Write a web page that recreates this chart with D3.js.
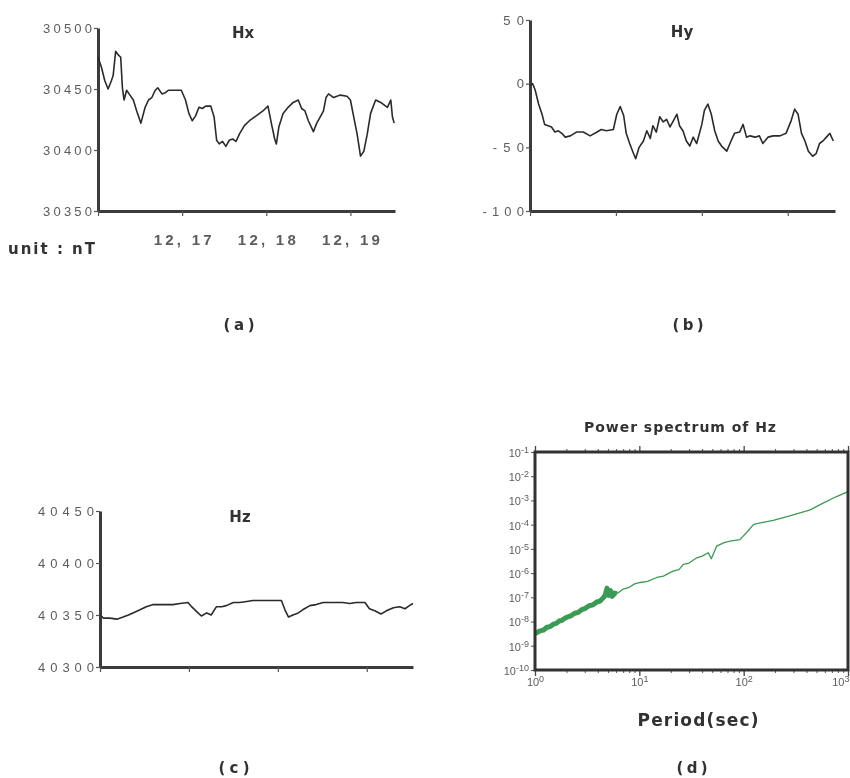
<!DOCTYPE html>
<html>
<head>
<meta charset="utf-8">
<script src="https://cdn.jsdelivr.net/npm/d3@7"></script>
<style>
  body { margin: 0; background: #fff; }
  svg { display: block; }
  .tick text { font-family: "Liberation Sans", Arial, sans-serif; fill: #5c5c5c; }
  .bold { font-family: "DejaVu Sans", sans-serif; font-weight: bold; fill: #333; }
</style>
</head>
<body>
<script>
"use strict";

// ---- data ----
const dayTicks = [0, 1, 2, 3];
const hxTickLabels = ["", "12, 17", "12, 18", "12, 19"];

const hxDay = [0, .04, .08, .12, .16, .18, .21, .24, .27, .29, .31, .34, .38, .42, .46, .51, .56, .60, .64, .68,
  .71, .76, .80, .84, .92, .99, 1.04, 1.08, 1.12, 1.16, 1.20, 1.24, 1.28, 1.34, 1.38, 1.41, 1.44, 1.48, 1.52, 1.56,
  1.60, 1.64, 1.68, 1.74, 1.80, 1.88, 1.96, 2.02, 2.06, 2.10, 2.12, 2.15, 2.20, 2.26, 2.32, 2.38, 2.42, 2.46, 2.50,
  2.56, 2.60, 2.64, 2.68, 2.71, 2.74, 2.80, 2.88, 2.96, 3.00, 3.04, 3.08, 3.12, 3.16, 3.20, 3.24, 3.30, 3.36, 3.44,
  3.48, 3.50, 3.52];
const hxVal = [30476, 30468, 30457, 30450, 30457, 30461, 30481, 30478, 30476, 30451, 30441, 30449, 30445, 30441,
  30432, 30422, 30435, 30441, 30443, 30449, 30451, 30446, 30447, 30449, 30449, 30449, 30441, 30430, 30424, 30428,
  30435, 30434, 30436, 30436, 30427, 30408, 30405, 30407, 30403, 30408, 30409, 30407, 30413, 30420, 30424, 30428,
  30432, 30436, 30422, 30409, 30405, 30419, 30430, 30435, 30439, 30441, 30434, 30432, 30424, 30415, 30422, 30427,
  30432, 30443, 30446, 30443, 30445, 30444, 30441, 30427, 30413, 30395, 30399, 30413, 30430, 30441, 30439, 30435,
  30441, 30427, 30422];

const hyDay = [0, .03, .06, .10, .14, .17, .21, .25, .29, .33, .37, .41, .47, .54, .62, .70, .78, .83, .89, .97,
  1.01, 1.05, 1.09, 1.12, 1.16, 1.20, 1.23, 1.27, 1.32, 1.36, 1.40, 1.43, 1.47, 1.51, 1.55, 1.59, 1.63, 1.67, 1.71,
  1.74, 1.78, 1.82, 1.86, 1.90, 1.94, 2.00, 2.03, 2.07, 2.11, 2.15, 2.19, 2.23, 2.29, 2.34, 2.38, 2.44, 2.48, 2.52,
  2.56, 2.62, 2.67, 2.71, 2.77, 2.83, 2.91, 2.98, 3.04, 3.08, 3.12, 3.16, 3.20, 3.24, 3.29, 3.33, 3.37, 3.41, 3.45,
  3.49, 3.53];
const hyVal = [-1, 0, -5, -16, -24, -32, -33, -34, -38, -37, -39, -42, -41, -38, -38, -41, -38, -36, -37, -36,
  -24, -18, -25, -39, -47, -54, -59, -50, -45, -37, -43, -33, -38, -26, -30, -28, -34, -29, -24, -33, -37, -45,
  -49, -42, -47, -32, -21, -16, -24, -37, -45, -49, -53, -45, -39, -38, -32, -42, -41, -42, -41, -47, -42, -41,
  -41, -39, -29, -20, -24, -39, -45, -53, -57, -55, -47, -45, -42, -39, -45];

const hzDay = [0, .04, .11, .19, .26, .32, .37, .45, .52, .60, .67, .75, .82, .90, .99, 1.03, 1.09, 1.14, 1.20,
  1.25, 1.31, 1.37, 1.42, 1.50, 1.57, 1.65, 1.72, 1.80, 1.87, 1.95, 2.04, 2.08, 2.12, 2.17, 2.23, 2.28, 2.36, 2.43,
  2.51, 2.58, 2.66, 2.73, 2.81, 2.88, 2.98, 3.03, 3.09, 3.16, 3.22, 3.30, 3.37, 3.43, 3.48, 3.52];
const hzVal = [40350, 40347, 40347, 40346, 40348, 40350, 40352, 40355, 40358, 40360, 40360, 40360, 40360, 40361,
  40362, 40358, 40353, 40349, 40352, 40350, 40358, 40358, 40359, 40362, 40362, 40363, 40364, 40364, 40364, 40364,
  40364, 40355, 40348, 40350, 40352, 40355, 40359, 40360, 40362, 40362, 40362, 40362, 40361, 40362, 40362, 40356,
  40354, 40351, 40354, 40357, 40358, 40356, 40359, 40361];

const hxTicks = [30350, 30400, 30450, 30500];
const hyTicks = [-100, -50, 0, 50];
const hzTicks = [40300, 40350, 40400, 40450];

// power spectrum: dense low-period part and sparse long-period part
const specPeriodDense = [1, 1.1, 1.2, 1.3, 1.4, 1.5, 1.6, 1.7, 1.8, 2.0, 2.2, 2.4, 2.6, 2.8, 3.0, 3.3, 3.6, 3.9,
  4.2, 4.5, 4.7, 4.9, 5.1, 5.3, 5.5, 5.8, 6.1];
const specPowerDense = [3.2e-9, 4.0e-9, 4.4e-9, 5.8e-9, 6.2e-9, 7.8e-9, 8.4e-9, 1.05e-8, 1.1e-8, 1.5e-8, 1.7e-8,
  2.2e-8, 2.4e-8, 3.1e-8, 3.4e-8, 4.5e-8, 4.9e-8, 6.4e-8, 7.0e-8, 9.5e-8, 1.2e-7, 2.4e-7, 1.2e-7, 1.9e-7, 1.1e-7,
  1.5e-7, 1.4e-7];
const specPeriod = [6.1, 7, 8, 9, 10.2, 12, 14.7, 17, 21, 24, 26.4, 30, 35.5, 40, 45.8, 49, 55, 65, 74, 92, 110,
  124, 133, 192, 277, 434, 577, 777, 1000];
const specPower = [1.4e-7, 2.2e-7, 2.6e-7, 3.6e-7, 4.1e-7, 4.6e-7, 6.6e-7, 7.5e-7, 1.2e-6, 1.4e-6, 2.3e-6, 2.6e-6,
  4.3e-6, 5.0e-6, 6.9e-6, 3.9e-6, 1.3e-5, 1.8e-5, 2.1e-5, 2.4e-5, 5.5e-5, 1.0e-4, 1.1e-4, 1.5e-4, 2.3e-4, 4.1e-4,
  7.8e-4, 1.45e-3, 2.3e-3];
const specYTicks = [1e-1, 1e-2, 1e-3, 1e-4, 1e-5, 1e-6, 1e-7, 1e-8, 1e-9, 1e-10];
const specXTicks = [1, 10, 100, 1000];

// ---- drawing ----
const W = 850, H = 778;
const svg = d3.select("body").append("svg").attr("width", W).attr("height", H);
svg.append("defs").append("filter").attr("id", "soft")
  .append("feGaussianBlur").attr("stdDeviation", 0.45);
const root = svg.append("g").attr("filter", "url(#soft)");

function styleAxis(g) {
  g.select(".domain").attr("stroke", "#3a3a3a").attr("stroke-width", 3);
  g.selectAll(".tick line").attr("stroke", "#555").attr("stroke-width", 1.2);
}

function timePanel(p) {
  const x = d3.scaleLinear().domain([0, p.xMax]).range([p.left, p.right]);
  const y = d3.scaleLinear().domain([p.ticks[0], p.ticks[p.ticks.length - 1]]).range([p.bottom, p.top]);
  const g = root.append("g");

  const ya = g.append("g").attr("transform", `translate(${p.left},0)`)
    .call(d3.axisLeft(y).tickValues(p.ticks).tickSize(4).tickSizeOuter(0).tickPadding(2)
      .tickFormat(d => String(d)));
  styleAxis(ya);
  ya.selectAll(".tick text").attr("font-size", 13)
    .attr("textLength", d => String(d).length * p.charW)
    .attr("lengthAdjust", "spacing");

  const xa = g.append("g").attr("transform", `translate(0,${p.bottom})`)
    .call(d3.axisBottom(x).tickValues(dayTicks).tickSize(5).tickSizeOuter(0).tickPadding(18)
      .tickFormat((d, i) => p.xLabels ? p.xLabels[i] : ""));
  styleAxis(xa);
  xa.selectAll(".tick text").attr("class", "bold").attr("font-size", 15)
    .attr("textLength", d => d ? 58 : 0).attr("lengthAdjust", "spacing");

  const line = d3.line().x((d, i) => x(p.days[i])).y(d => y(d));
  g.append("path").datum(p.vals).attr("d", line)
    .attr("fill", "none").attr("stroke", "#2b2b2b").attr("stroke-width", 1.6).attr("stroke-linejoin", "round");

  g.append("text").attr("class", "bold").attr("x", p.titleX).attr("y", p.titleY)
    .attr("text-anchor", "middle").attr("font-size", 15).text(p.title);
}

timePanel({ left: 98, right: 395, top: 28, bottom: 211, xMax: 3.53, ticks: hxTicks, days: hxDay, vals: hxVal,
  xLabels: hxTickLabels, charW: 9.8, title: "Hx", titleX: 243, titleY: 38 });
timePanel({ left: 530, right: 835, top: 20, bottom: 211, xMax: 3.55, ticks: hyTicks, days: hyDay, vals: hyVal,
  charW: 10.4, title: "Hy", titleX: 682, titleY: 37 });
timePanel({ left: 100, right: 413, top: 511, bottom: 667, xMax: 3.52, ticks: hzTicks, days: hzDay, vals: hzVal,
  charW: 11.2, title: "Hz", titleX: 240, titleY: 522 });

root.append("text").attr("class", "bold").attr("x", 8).attr("y", 254).attr("font-size", 15)
  .attr("textLength", 87).attr("lengthAdjust", "spacing").text("unit : nT");

// power spectrum panel
const sx = d3.scaleLog().domain([1, 1000]).range([535, 848]);
const sy = d3.scaleLog().domain([1e-10, 1e-1]).range([670, 452]);
const sg = root.append("g");

const minor = [];
[1, 10, 100].forEach(b => d3.range(2, 10).forEach(k => minor.push(b * k)));

[[452, d3.axisTop], [670, d3.axisBottom]].forEach(([yPos, ax]) => {
  sg.append("g").attr("transform", `translate(0,${yPos})`)
    .call(ax(sx).tickValues(minor).tickSize(3).tickFormat(""))
    .call(g => g.select(".domain").remove())
    .selectAll("line").attr("stroke", "#555");
  sg.append("g").attr("transform", `translate(0,${yPos})`)
    .call(ax(sx).tickValues(specXTicks).tickSize(6).tickFormat(""))
    .call(g => g.select(".domain").remove())
    .selectAll("line").attr("stroke", "#444").attr("stroke-width", 1.3);
});

function powerLabel(sel, d) {
  sel.append("tspan").text("10");
  sel.append("tspan").attr("dy", "-0.45em").attr("font-size", 9).text(String(Math.round(Math.log10(d))));
}

const sya = sg.append("g").attr("transform", "translate(535,0)")
  .call(d3.axisLeft(sy).tickValues(specYTicks).tickSize(4).tickFormat(""));
sya.select(".domain").remove();
sya.selectAll(".tick line").attr("stroke", "#555");
sya.selectAll(".tick").append("text")
  .attr("x", -6).attr("dy", "0.4em").attr("text-anchor", "end").attr("font-size", 11)
  .each(function (d) { powerLabel(d3.select(this), d); });

const sxa = sg.append("g").attr("transform", "translate(0,670)")
  .call(d3.axisBottom(sx).tickValues(specXTicks).tickSize(0).tickFormat(""));
sxa.select(".domain").remove();
sxa.selectAll(".tick").append("text")
  .attr("y", 16).attr("font-size", 11)
  .attr("text-anchor", d => d === 1000 ? "end" : "middle")
  .attr("x", d => d === 1000 ? 1 : 0)
  .each(function (d) { powerLabel(d3.select(this), d); });

sg.append("path")
  .attr("d", d3.line()(specPeriodDense.map((p, i) => [sx(p), sy(specPowerDense[i])])))
  .attr("fill", "none").attr("stroke", "#3b9a52").attr("stroke-width", 5).attr("stroke-linejoin", "round");
sg.append("path")
  .attr("d", d3.line()(specPeriod.map((p, i) => [sx(p), sy(specPower[i])])))
  .attr("fill", "none").attr("stroke", "#3b9a52").attr("stroke-width", 1.3).attr("stroke-linejoin", "round");

sg.append("rect").attr("x", sx(1)).attr("y", sy(1e-1))
  .attr("width", sx(1000) - sx(1)).attr("height", sy(1e-10) - sy(1e-1))
  .attr("fill", "none").attr("stroke", "#333").attr("stroke-width", 3);

sg.append("text").attr("class", "bold").attr("x", 680).attr("y", 432).attr("text-anchor", "middle")
  .attr("font-size", 14).attr("textLength", 192).attr("lengthAdjust", "spacing").text("Power spectrum of Hz");
sg.append("text").attr("class", "bold").attr("x", 698).attr("y", 726).attr("text-anchor", "middle")
  .attr("font-size", 17).attr("textLength", 121).attr("lengthAdjust", "spacing").text("Period(sec)");

// panel captions
const captions = [["(a)", 239, 330], ["(b)", 688, 330], ["(c)", 234, 773], ["(d)", 692, 773]];
captions.forEach(([t, cx, cy]) => {
  root.append("text").attr("class", "bold").attr("x", cx).attr("y", cy).attr("text-anchor", "middle")
    .attr("font-size", 15).attr("textLength", 31).attr("lengthAdjust", "spacing").text(t);
});
</script>
</body>
</html>
